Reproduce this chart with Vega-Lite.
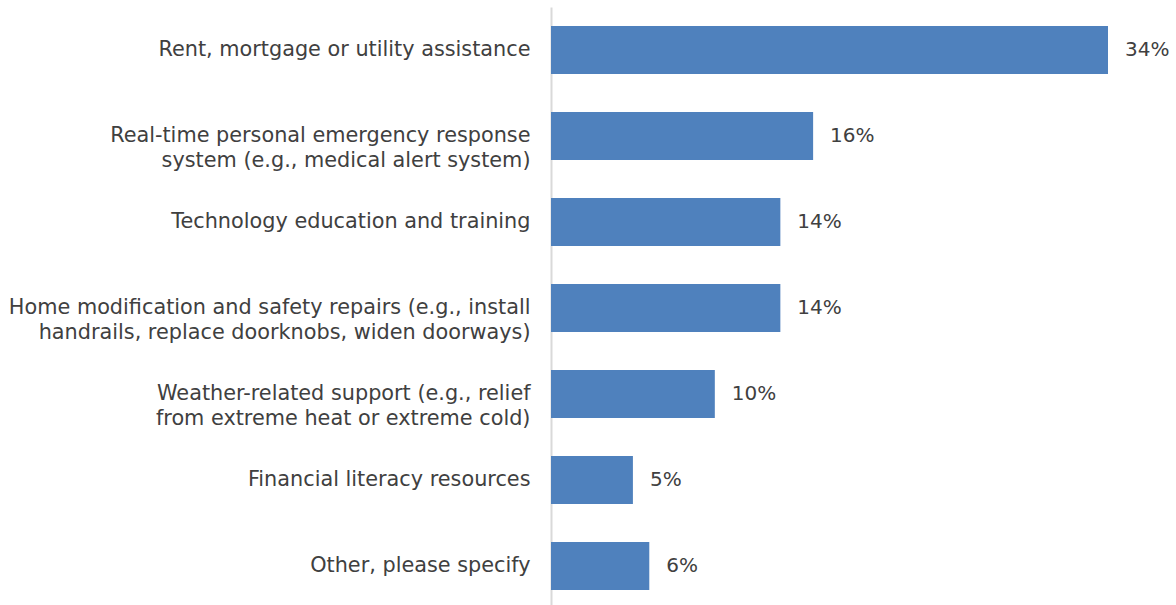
{
  "$schema": "https://vega.github.io/schema/vega-lite/v6.json",
  "autosize": "none",
  "width": 557,
  "height": 602,
  "padding": {"left": 551, "top": 7, "right": 68, "bottom": 0},
  "background": "white",
  "config": {"view": {"stroke": null}, "font": "DejaVu Sans"},
  "data": {
    "values": [
      {"item": "Rent, mortgage or utility assistance", "share": 0.34},
      {"item": "Real-time personal emergency response|system (e.g., medical alert system)", "share": 0.16},
      {"item": "Technology education and training", "share": 0.14},
      {"item": "Home modification and safety repairs (e.g., install|handrails, replace doorknobs, widen doorways)", "share": 0.14},
      {"item": "Weather-related support (e.g., relief|from extreme heat or extreme cold)", "share": 0.10},
      {"item": "Financial literacy resources", "share": 0.05},
      {"item": "Other, please specify", "share": 0.06}
    ]
  },
  "encoding": {
    "y": {
      "field": "item",
      "type": "nominal",
      "sort": null,
      "title": null,
      "scale": {"paddingInner": 0.44, "paddingOuter": 0.22},
      "axis": {
        "labelExpr": "split(datum.label, '|')",
        "labelFontSize": 20.8,
        "labelLineHeight": 25,
        "labelColor": "#404040",
        "labelPadding": 21,
        "labelLimit": 600,
        "ticks": false,
        "domainColor": "#d9d9d9",
        "domainWidth": 2,
        "grid": false
      }
    },
    "x": {
      "field": "share",
      "type": "quantitative",
      "scale": {"domain": [0, 0.34], "nice": false},
      "axis": null
    }
  },
  "layer": [
    {"mark": {"type": "bar", "color": "#4f81bd"}},
    {
      "mark": {"type": "text", "align": "left", "baseline": "middle", "dx": 17, "fontSize": 20, "color": "#404040"},
      "encoding": {"text": {"field": "share", "type": "quantitative", "format": ".0%"}}
    }
  ]
}
